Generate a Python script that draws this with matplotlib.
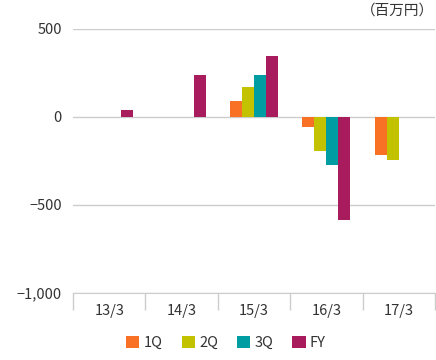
import numpy as np
import matplotlib
matplotlib.use("Agg")
import matplotlib.pyplot as plt
from matplotlib.ticker import FuncFormatter, FixedLocator

plt.rcParams["font.family"] = ["Noto Sans CJK JP", "DejaVu Sans"]

years = ["13/3", "14/3", "15/3", "16/3", "17/3"]
series = ["1Q", "2Q", "3Q", "FY"]
q1 = [np.nan, np.nan, 93, -55, -216]
q2 = [np.nan, np.nan, 170, -191, -244]
q3 = [np.nan, np.nan, 239, -271, np.nan]
fy = [40, 239, 347, -583, np.nan]
colors = ["#f87124", "#c2c200", "#009ea3", "#a81b5d"]

fig = plt.figure(figsize=(4.36, 3.6), dpi=100)
ax = fig.add_axes([73 / 436, 1 - 293 / 360, 362 / 436, 264 / 360])

x = np.arange(len(years))
w = 0.166
for i, (vals, c, lab) in enumerate(zip([q1, q2, q3, fy], colors, series)):
    ax.bar(x + (i - 1.5) * w, vals, w, color=c, label=lab, zorder=3)

ax.set_xlim(-0.5, len(years) - 0.5)
ax.set_ylim(-1000, 500)
ax.set_yticks([-1000, -500, 0, 500])
ax.yaxis.set_major_formatter(FuncFormatter(lambda v, p: f"{v:,.0f}".replace("-", "−")))
ax.grid(axis="y", color="#cccccc", lw=1, zorder=0)

ax.set_xticks(x)
ax.set_xticklabels(years)
ax.xaxis.set_minor_locator(FixedLocator(np.arange(-0.5, len(years), 1)))
ax.tick_params(axis="x", which="major", length=0, pad=8, labelsize=10.5, colors="#333333")
ax.tick_params(axis="x", which="minor", length=12, color="#cccccc", width=1)
ax.tick_params(axis="y", length=0, pad=8, labelsize=10.5, colors="#333333")

for s in ["top", "right", "left"]:
    ax.spines[s].set_visible(False)
ax.spines["bottom"].set_color("#cccccc")

fig.text(434 / 436, 1 - 11 / 360, "（百万円）", ha="right", va="center",
         fontsize=10.5, color="#333333")

fig.legend(loc="center", bbox_to_anchor=(226 / 436, 1 - 343 / 360), ncol=4,
           frameon=False, fontsize=10.5, handlelength=0.9, handleheight=0.9,
           handletextpad=0.3, columnspacing=1.3, labelcolor="#333333")

fig.savefig("out.png", dpi=100, facecolor="white")
